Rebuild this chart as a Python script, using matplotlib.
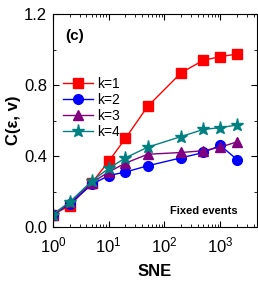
import matplotlib
matplotlib.use("Agg")
import matplotlib.pyplot as plt
from matplotlib.ticker import LogLocator, MultipleLocator, NullFormatter, FormatStrFormatter

plt.rcParams['font.family'] = ['Liberation Sans', 'DejaVu Sans']
plt.rcParams['mathtext.fontset'] = 'custom'
plt.rcParams['mathtext.rm'] = 'Liberation Sans'

sne = [1, 2, 5, 10, 20, 50, 200, 500, 1000, 2000]
k1 = [0.07, 0.12, 0.25, 0.37, 0.50, 0.68, 0.87, 0.94, 0.96, 0.975]
k2 = [0.07, 0.13, 0.24, 0.29, 0.31, 0.345, 0.39, 0.42, 0.46, 0.38]
k3 = [0.07, 0.14, 0.25, 0.31, 0.36, 0.41, 0.42, 0.43, 0.45, 0.48]
k4 = [0.07, 0.14, 0.26, 0.33, 0.39, 0.45, 0.51, 0.55, 0.56, 0.575]
labels = ['k=1', 'k=2', 'k=3', 'k=4']

fig = plt.figure(figsize=(2.58, 2.82), dpi=100)
ax = fig.add_axes([0.205, 0.195, 0.79, 0.755])

styles = [
    (k1, 'red', 's', '-'),
    (k2, 'blue', 'o', '-'),
    (k3, 'purple', '^', '-'),
    (k4, 'teal', '*', '-'),
]
for (vals, c, m, ls), lab in zip(styles, labels):
    ms = 9.5 if m == '*' else 7
    ax.plot(sne, vals, color=c, marker=m, ls=ls, lw=1.0, ms=ms,
            markeredgecolor=c, label=lab)

ax.set_xscale('log')
ax.set_xlim(1, 4500)
ax.set_ylim(0, 1.2)
ax.yaxis.set_major_locator(MultipleLocator(0.4))
ax.yaxis.set_minor_locator(MultipleLocator(0.2))
ax.yaxis.set_major_formatter(FormatStrFormatter('%.1f'))
ax.xaxis.set_major_locator(LogLocator(base=10, numticks=10))
ax.xaxis.set_minor_locator(LogLocator(base=10, subs=range(2, 10), numticks=10))
ax.xaxis.set_minor_formatter(NullFormatter())
ax.tick_params(which='both', direction='in', top=True, right=True, labelsize=12)
ax.tick_params(which='major', length=4)
ax.tick_params(which='minor', length=2)
ax.tick_params(axis='x', pad=6)
ax.tick_params(axis='y', pad=4)

ax.set_xlabel('SNE', fontsize=12, fontweight='bold', labelpad=6)
ax.set_ylabel('C(ε, v)', fontsize=12, fontweight='bold', labelpad=2)

ax.text(0.06, 0.93, '(c)', transform=ax.transAxes, fontsize=11,
        fontweight='bold', va='top', ha='left')
ax.text(0.905, 0.075, 'Fixed events', transform=ax.transAxes, fontsize=8,
        fontweight='bold', va='center', ha='right')

ax.legend(loc='upper left', bbox_to_anchor=(0.0, 0.75), frameon=False,
          fontsize=10, handlelength=2.2, handletextpad=0.3,
          labelspacing=0.15, borderaxespad=0.3)

fig.savefig('out.png', dpi=100)
